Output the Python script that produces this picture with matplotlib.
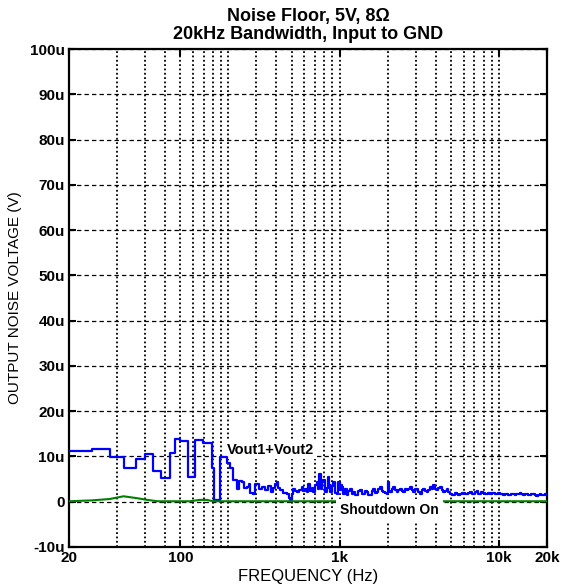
import matplotlib
matplotlib.use("Agg")
from matplotlib import pyplot as plt

plt.rcParams['font.family'] = ['Liberation Sans', 'DejaVu Sans']

# Vout1+Vout2 noise, Hz / uV
freq = [20, 28, 36, 44, 53, 60, 67, 76, 86, 92, 100, 111, 124, 139, 157, 163, 178,
        195, 205, 215, 227, 235, 243, 252, 261, 268, 274, 285, 293, 301, 312, 324,
        340, 355, 369, 380, 393, 403, 412, 422, 440, 466, 478, 488, 500, 512, 525,
        537, 556, 578, 592, 606, 620, 636, 652, 668, 684, 700, 718, 735, 745, 760,
        775, 790, 810, 829, 840, 855, 870, 890, 913, 935, 958, 970, 982, 1005, 1020,
        1040, 1055, 1080, 1107, 1130, 1161, 1190, 1218, 1250, 1278, 1310, 1341, 1375,
        1407, 1440, 1477, 1510, 1550, 1590, 1626, 1665, 1706, 1750, 1790, 1830, 1878,
        1920, 1971, 2000, 2030, 2068, 2120, 2170, 2220, 2277, 2330, 2389, 2450, 2507,
        2570, 2630, 2700, 2760, 2830, 2896, 2970, 3039, 3110, 3188, 3270, 3346, 3430,
        3511, 3600, 3684, 3770, 3865, 3960, 4056, 4150, 4256, 4360, 4465, 4570, 4685,
        4800, 4916, 5040, 5158, 5290, 5413, 5540, 5679, 5820, 5959, 6100, 6253, 6400,
        6561, 6720, 6885, 7050, 7224, 7400, 7580, 7760, 7954, 8150, 8346, 8550, 8757,
        8970, 9189, 9410, 9642, 9880, 10117, 10360, 10616, 10880, 11139, 11410, 11688,
        11970, 12264, 12560, 12869, 13180, 13503, 13830, 14169, 14510, 14867, 15230,
        15600, 15980, 16369, 16770, 17176, 17590, 18023, 18460, 18911, 19370, 20000]
vout = [11.3, 11.6, 9.8, 7.4, 9.4, 10.5, 6.8, 5.3, 10.7, 13.9, 13.4, 5.5, 13.6, 13.0,
        7.5, 0.4, 9.8, 8.5, 7.4, 4.8, 2.8, 4.6, 4.3, 3.0, 3.2, 3.9, 2.0, 1.7, 3.9, 3.9,
        2.8, 3.2, 2.6, 3.5, 2.1, 3.0, 3.9, 4.3, 3.0, 2.5, 2.0, 1.7, 0.8, 0.3, 1.8, 2.8,
        2.4, 2.1, 2.6, 3.2, 2.4, 2.8, 2.2, 3.9, 2.4, 3.0, 2.2, 3.6, 4.4, 2.8, 6.1, 2.9,
        4.4, 4.8, 2.2, 3.1, 5.5, 3.8, 2.2, 3.4, 4.4, 2.0, 1.8, 3.5, 4.4, 2.6, 3.6, 3.3,
        1.8, 2.8, 1.5, 2.4, 2.9, 1.8, 2.2, 1.5, 1.5, 2.4, 2.6, 1.6, 1.8, 2.4, 2.2, 1.5,
        1.5, 2.4, 2.9, 2.0, 2.2, 2.9, 3.3, 2.4, 2.2, 2.0, 1.8, 4.4, 2.4, 2.2, 2.8, 3.3,
        2.6, 2.2, 2.5, 2.9, 2.3, 2.2, 2.8, 2.6, 2.9, 3.3, 2.5, 2.2, 2.7, 2.9, 2.2, 1.8,
        2.5, 2.9, 2.3, 2.2, 2.6, 3.3, 2.9, 3.8, 2.8, 2.5, 3.0, 3.3, 2.6, 2.1, 2.4, 2.8,
        2.2, 1.8, 1.4, 1.5, 1.9, 1.8, 1.5, 1.6, 1.9, 2.0, 1.7, 1.6, 1.9, 2.1, 1.7, 1.8,
        2.2, 2.3, 1.8, 1.8, 2.1, 2.0, 1.6, 1.6, 1.9, 1.8, 2.0, 2.0, 1.7, 1.6, 1.9, 1.8,
        1.6, 1.5, 1.7, 1.6, 1.5, 1.5, 1.7, 1.7, 1.5, 1.6, 1.8, 1.9, 1.6, 1.5, 1.6, 1.7,
        1.5, 1.5, 1.6, 1.6, 1.4, 1.3, 1.5, 1.6, 1.4, 1.5, 1.6, 1.6]

# shutdown on
freq_sd = [20, 28, 36, 44, 53, 62, 72, 115, 132, 147, 160, 20000]
v_sd = [0.1, 0.3, 0.6, 1.2, 0.8, 0.4, 0.1, 0.1, 0.4, 0.4, 0.1, 0.1]

xticks = [20, 100, 1000, 10000, 20000]
xlabels = ['20', '100', '1k', '10k', '20k']
xminor = [40, 60, 80, 120, 140, 160, 180, 200, 300, 400, 500, 600, 700, 800, 900,
          2000, 3000, 4000, 5000, 6000, 7000, 8000, 9000]
yticks = [-10, 0, 10, 20, 30, 40, 50, 60, 70, 80, 90, 100]
ylabels = ['-10u', '0', '10u', '20u', '30u', '40u', '50u', '60u', '70u', '80u', '90u', '100u']

fig = plt.figure(figsize=(5.62, 5.85), dpi=100)
ax = fig.add_axes([0.1228, 0.065, 0.8505, 0.851])

ax.plot(freq, vout, color='#0000ff', lw=1.6, drawstyle='steps-post', zorder=3)
ax.plot(freq_sd, v_sd, color='#008000', lw=1.5, zorder=3)

ax.set_xscale('log')
ax.set_xlim(20, 20000)
ax.set_ylim(-10, 100)
ax.set_xticks(xticks)
ax.set_xticklabels(xlabels, fontweight='bold', fontsize=11)
ax.set_xticks(xminor, minor=True)
ax.set_xticklabels([], minor=True)
ax.set_yticks(yticks)
ax.set_yticklabels(ylabels, fontweight='bold', fontsize=11)

ax.set_axisbelow(True)
ax.grid(which='both', axis='x', color='black', linestyle=(0, (1, 1.4)), lw=1.3)
ax.grid(which='major', axis='y', color='black', linestyle=(0, (3.5, 2.5)), lw=0.9)

ax.tick_params(which='major', direction='in', length=5, width=1.5, top=True, right=True, pad=3)
ax.tick_params(which='minor', length=0)
for s in ax.spines.values():
    s.set_linewidth(1.6)

ax.text(196, 11.4, 'Vout1+Vout2', fontsize=10.5, fontweight='bold', va='center', ha='left',
        zorder=2.5, bbox=dict(facecolor='white', edgecolor='none', pad=1.5))
ax.text(1010, -1.9, 'Shoutdown On', fontsize=10, fontweight='bold', va='center', ha='left',
        zorder=4, bbox=dict(facecolor='white', edgecolor='none', pad=3))

ax.set_title('Noise Floor, 5V, 8\u03a9\n20kHz Bandwidth, Input to GND',
             fontsize=13, fontweight='bold', pad=7, linespacing=1.1)
ax.set_xlabel('FREQUENCY (Hz)', fontsize=12, labelpad=3)
ax.set_ylabel('OUTPUT NOISE VOLTAGE (V)', fontsize=11, labelpad=6)

plt.savefig('out.png', dpi=100)
